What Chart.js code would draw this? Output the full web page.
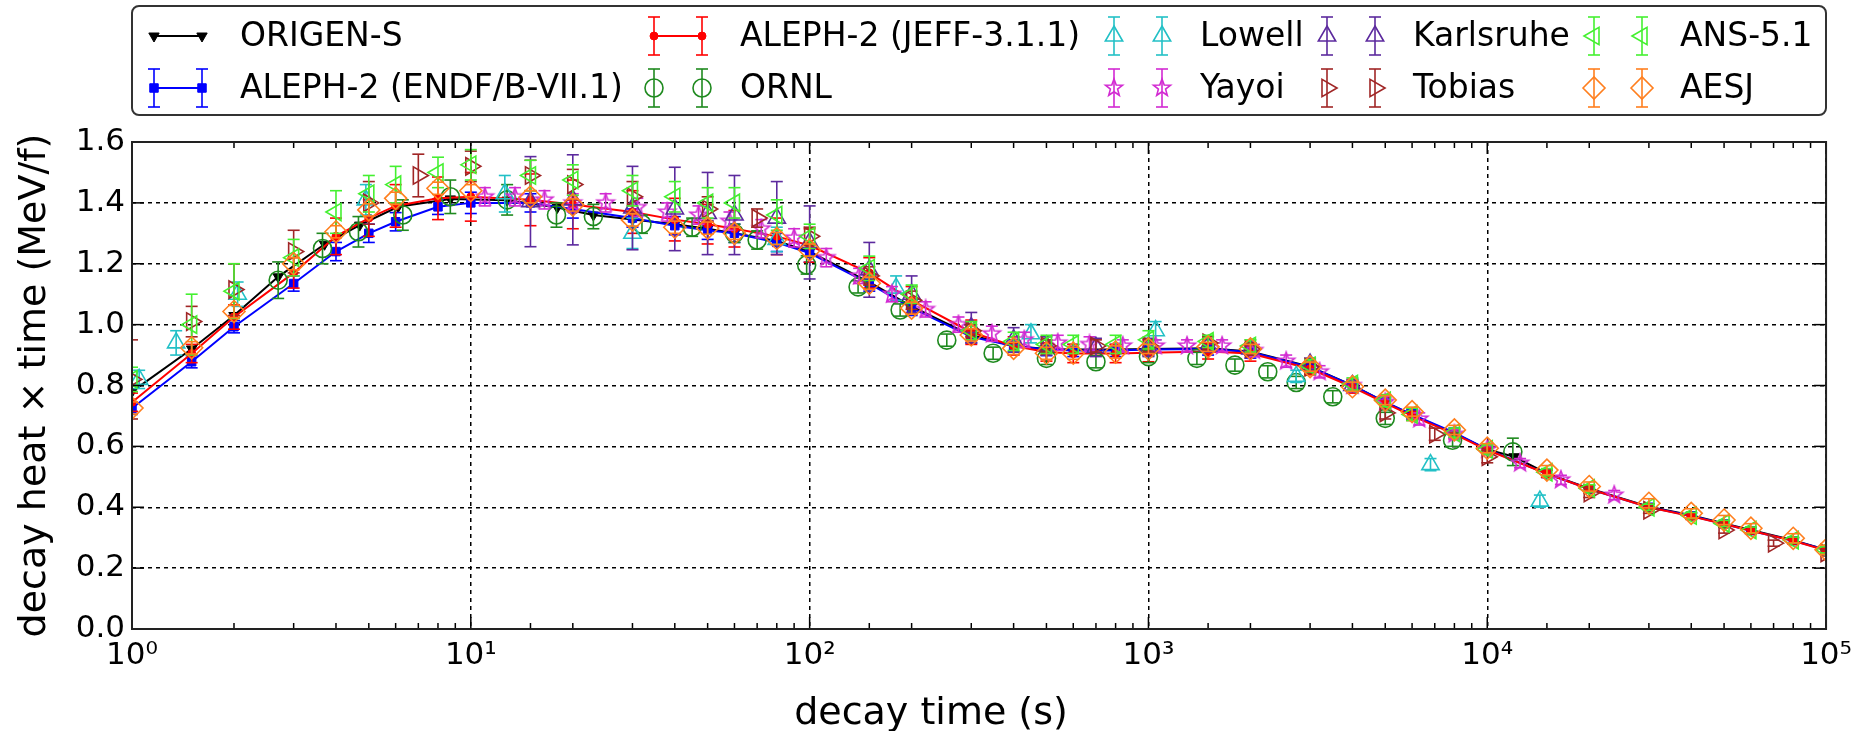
<!DOCTYPE html>
<html>
<head>
<meta charset="utf-8">
<title>decay heat x time</title>
<script src="https://cdn.jsdelivr.net/npm/chart.js@4.4.1/dist/chart.umd.min.js"></script>
<style>
  html, body { margin: 0; padding: 0; background: #fff; }
  #chart { display: block; }
</style>
</head>
<body>
<canvas id="chart" width="1860" height="731"></canvas>
<script>
// decay times (s) shared by the calculations and the standard benchmark sets
const stdTimes = [1, 1.5, 2, 3, 4, 5, 6, 8, 10, 15, 20, 30, 40, 50, 60, 80,
  100, 150, 200, 300, 400, 500, 600, 800, 1000, 1500, 2000, 3000, 4000, 5000, 6000, 8000,
  10000, 15000, 20000, 30000, 40000, 50000, 60000, 80000, 100000];

// ORIGEN-S
const origenTimes = [1, 1.5, 2, 2.7, 3.7, 4.7, 6.1, 8.7, 12.8, 18, 23, 30, 40, 50, 60, 80,
  100, 150, 200, 300, 400, 500, 600, 800, 1000, 1500, 2000, 3000, 4000, 5000, 6000, 8000,
  10000, 12000, 15000, 20000, 30000, 40000, 50000, 60000, 80000, 100000];
const origenValues = [0.78, 0.92, 1.03, 1.157, 1.264, 1.327, 1.387, 1.413, 1.409, 1.385, 1.36, 1.345, 1.33, 1.315, 1.30, 1.275,
  1.24, 1.14, 1.06, 0.965, 0.93, 0.92, 0.918, 0.918, 0.92, 0.922, 0.912, 0.862, 0.80, 0.745, 0.703, 0.643,
  0.59, 0.566, 0.511, 0.462, 0.402, 0.374, 0.347, 0.325, 0.292, 0.26];

// ALEPH-2 (ENDF/B-VII.1)
const endfValues = [0.725, 0.878, 0.993, 1.135, 1.24, 1.30, 1.338, 1.387, 1.40, 1.40, 1.38, 1.35, 1.325, 1.31, 1.30, 1.27,
  1.235, 1.135, 1.055, 0.96, 0.93, 0.918, 0.915, 0.915, 0.918, 0.92, 0.91, 0.86, 0.80, 0.745, 0.705, 0.645,
  0.59, 0.51, 0.46, 0.40, 0.372, 0.345, 0.323, 0.29, 0.26];
const endfErrors = [0.02, 0.02, 0.02, 0.025, 0.03, 0.03, 0.03, 0.025, 0.035, 0.03, 0.03, 0.03, 0.03, 0.03, 0.03, 0.03,
  0.03, 0.025, 0.025, 0.02, 0.02, 0.02, 0.02, 0.02, 0.02, 0.02, 0.02, 0.02, 0.015, 0.015, 0.015, 0.015,
  0.015, 0.012, 0.012, 0.01, 0.01, 0.01, 0.01, 0.01, 0.01];

// ALEPH-2 (JEFF-3.1.1)
const jeffValues = [0.745, 0.905, 1.025, 1.17, 1.29, 1.35, 1.39, 1.415, 1.42, 1.41, 1.395, 1.37, 1.345, 1.33, 1.315, 1.29,
  1.26, 1.17, 1.08, 0.975, 0.93, 0.91, 0.905, 0.905, 0.908, 0.912, 0.905, 0.855, 0.795, 0.742, 0.70, 0.64,
  0.588, 0.51, 0.46, 0.40, 0.37, 0.345, 0.323, 0.29, 0.258];
const jeffErrors = [0.03, 0.03, 0.04, 0.05, 0.06, 0.06, 0.07, 0.07, 0.08, 0.085, 0.08, 0.07, 0.07, 0.065, 0.06, 0.06,
  0.055, 0.05, 0.045, 0.04, 0.03, 0.03, 0.03, 0.03, 0.03, 0.025, 0.025, 0.02, 0.02, 0.02, 0.015, 0.015,
  0.015, 0.012, 0.012, 0.01, 0.01, 0.01, 0.01, 0.01, 0.01];

// ORNL
const ornlTimes = [2.7, 3.65, 4.66, 6.3, 8.7, 12.8, 17.9, 23, 32, 45, 60, 70, 98, 139, 185, 254,
  348, 500, 700, 1000, 1390, 1800, 2250, 2730, 3500, 5000, 7900, 11900];
const ornlValues = [1.146, 1.25, 1.305, 1.36, 1.42, 1.41, 1.36, 1.355, 1.33, 1.32, 1.30, 1.278, 1.196, 1.124, 1.048, 0.949,
  0.906, 0.889, 0.878, 0.895, 0.889, 0.867, 0.845, 0.81, 0.763, 0.692, 0.62, 0.582];
const ornlErrors = [0.06, 0.05, 0.05, 0.05, 0.055, 0.05, 0.04, 0.04, 0.03, 0.03, 0.03, 0.03, 0.03, 0.02, 0.02, 0.02,
  0.02, 0.02, 0.02, 0.02, 0.02, 0.02, 0.02, 0.02, 0.02, 0.02, 0.02, 0.045];

// Lowell
const lowellTimes = [1.05, 1.35, 2.05, 4.9, 12.6, 30, 80, 180, 450, 1050, 2730, 6800, 14300];
const lowellValues = [0.82, 0.94, 1.10, 1.41, 1.43, 1.30, 1.28, 1.12, 0.97, 0.98, 0.83, 0.54, 0.42];
const lowellErrors = [0.03, 0.04, 0.04, 0.05, 0.06, 0.05, 0.04, 0.04, 0.03, 0.03, 0.02, 0.02, 0.02];

// Yayoi
const yayoiTimes = [11, 13.5, 16.5, 20, 25, 31, 38, 47, 58, 72, 90, 112, 140, 175, 220, 275, 345, 430,
  540, 670, 840, 1050, 1300, 1650, 2050, 2550, 3200, 4000, 5000, 6300, 8000, 10000, 12500, 16500, 23700];
const yayoiValues = [1.42, 1.42, 1.41, 1.40, 1.40, 1.385, 1.37, 1.36, 1.34, 1.315, 1.285, 1.22, 1.16, 1.10, 1.05, 1.00, 0.97, 0.95,
  0.94, 0.935, 0.93, 0.93, 0.93, 0.93, 0.915, 0.88, 0.845, 0.80, 0.745, 0.69, 0.64, 0.59, 0.545, 0.49, 0.44];
const yayoiErrors = [0.03, 0.03, 0.03, 0.03, 0.03, 0.03, 0.03, 0.03, 0.03, 0.03, 0.03, 0.03, 0.025, 0.025, 0.025, 0.025, 0.025, 0.025,
  0.025, 0.025, 0.02, 0.02, 0.02, 0.02, 0.02, 0.02, 0.02, 0.02, 0.02, 0.02, 0.015, 0.015, 0.015, 0.015, 0.015];

// Karlsruhe
const karlsruheTimes = [15, 20, 30, 40, 50, 60, 80, 100, 150, 200, 300, 400, 500, 700, 1000, 1500, 2000, 3000, 4000];
const karlsruheValues = [1.404, 1.41, 1.383, 1.38, 1.365, 1.36, 1.35, 1.27, 1.18, 1.10, 0.99, 0.95, 0.93, 0.925, 0.925, 0.93, 0.92, 0.87, 0.80];
const karlsruheErrors = [0.148, 0.148, 0.137, 0.137, 0.135, 0.13, 0.12, 0.12, 0.09, 0.06, 0.05, 0.04, 0.03, 0.03, 0.03, 0.02, 0.02, 0.02, 0.02];

// Tobias
const tobiasTimes = [1, 1.5, 2, 3, 5, 7, 10, 15, 20, 30, 50, 70, 100, 150, 200, 300, 500, 700, 1000, 1500,
  2000, 3000, 5000, 7000, 10000, 20000, 30000, 50000, 70000, 100000];
const tobiasValues = [0.82, 1.01, 1.115, 1.24, 1.40, 1.49, 1.52, 1.49, 1.46, 1.42, 1.38, 1.35, 1.29, 1.16, 1.08, 0.98, 0.93, 0.93, 0.93, 0.94,
  0.92, 0.86, 0.71, 0.64, 0.566, 0.447, 0.39, 0.325, 0.282, 0.25];
const tobiasErrors = [0.13, 0.05, 0.085, 0.07, 0.07, 0.07, 0.05, 0.05, 0.05, 0.05, 0.04, 0.03, 0.03, 0.03, 0.03, 0.02, 0.02, 0.02, 0.02, 0.02,
  0.02, 0.02, 0.02, 0.02, 0.02, 0.015, 0.01, 0.01, 0.01, 0.01];

// ANS-5.1 (on stdTimes)
const ansValues = [0.82, 1.00, 1.11, 1.22, 1.37, 1.43, 1.46, 1.50, 1.525, 1.49, 1.475, 1.44, 1.42, 1.40, 1.40, 1.36,
  1.29, 1.185, 1.10, 0.98, 0.945, 0.935, 0.935, 0.935, 0.95, 0.945, 0.93, 0.865, 0.805, 0.75, 0.705, 0.645,
  0.59, 0.515, 0.462, 0.40, 0.373, 0.347, 0.325, 0.292, 0.26];
const ansErrors = [0.04, 0.10, 0.09, 0.06, 0.07, 0.06, 0.06, 0.05, 0.05, 0.05, 0.05, 0.05, 0.05, 0.05, 0.05, 0.05,
  0.04, 0.04, 0.03, 0.03, 0.03, 0.03, 0.03, 0.03, 0.03, 0.02, 0.02, 0.02, 0.02, 0.02, 0.02, 0.015,
  0.015, 0.012, 0.012, 0.01, 0.01, 0.01, 0.01, 0.01, 0.01];

// AESJ (on stdTimes)
const aesjValues = [0.726, 0.924, 1.043, 1.20, 1.305, 1.377, 1.415, 1.448, 1.44, 1.42, 1.393, 1.344, 1.32, 1.317, 1.30, 1.283,
  1.245, 1.136, 1.054, 0.966, 0.922, 0.906, 0.906, 0.91, 0.92, 0.927, 0.92, 0.862, 0.796, 0.752, 0.714, 0.654,
  0.594, 0.522, 0.468, 0.413, 0.38, 0.358, 0.331, 0.298, 0.26];
const aesjErrors = [0.02, 0.02, 0.02, 0.02, 0.02, 0.02, 0.02, 0.02, 0.02, 0.02, 0.02, 0.02, 0.02, 0.02, 0.02, 0.02,
  0.02, 0.02, 0.02, 0.02, 0.02, 0.02, 0.02, 0.02, 0.015, 0.015, 0.015, 0.015, 0.015, 0.015, 0.015, 0.015,
  0.015, 0.015, 0.015, 0.015, 0.015, 0.015, 0.015, 0.015, 0.015];

// y ticks
const yTickValues = [0.0, 0.2, 0.4, 0.6, 0.8, 1.0, 1.2, 1.4, 1.6];

const FONT = "'DejaVu Sans', 'Liberation Sans', sans-serif";
const SUP = ["\u2070", "\u00b9", "\u00b2", "\u00b3", "\u2074", "\u2075"];

function isDecade(v) {
  const l = Math.log10(v);
  return Math.abs(l - Math.round(l)) < 1e-9;
}

// open five-point star, used as a point style image (matplotlib '*')
function starMarker(color, r) {
  const c = document.createElement("canvas");
  const size = Math.ceil(r * 2 + 4);
  c.width = size; c.height = size;
  const g = c.getContext("2d");
  g.strokeStyle = color;
  g.lineWidth = 1.6;
  g.beginPath();
  for (let k = 0; k < 10; k++) {
    const rr = k % 2 === 0 ? r : r * 0.42;
    const ang = -Math.PI / 2 + k * Math.PI / 5;
    const px = size / 2 + rr * Math.cos(ang), py = size / 2 + rr * Math.sin(ang);
    if (k === 0) g.moveTo(px, py); else g.lineTo(px, py);
  }
  g.closePath();
  g.stroke();
  return c;
}

// style table, legend order (matplotlib draws later ones on top)
const series = [
  { label: "ORIGEN-S", times: origenTimes, values: origenValues, errors: null, color: "#000000", style: "triangle", rotation: 180, radius: 6, filled: true, line: true },
  { label: "ALEPH-2 (ENDF/B-VII.1)", times: stdTimes, values: endfValues, errors: endfErrors, color: "#0000ff", style: "rect", rotation: 0, radius: 6, filled: true, line: true },
  { label: "ALEPH-2 (JEFF-3.1.1)", times: stdTimes, values: jeffValues, errors: jeffErrors, color: "#ff0000", style: "circle", rotation: 0, radius: 4, filled: true, line: true },
  { label: "ORNL", times: ornlTimes, values: ornlValues, errors: ornlErrors, color: "#1f8a1f", style: "circle", rotation: 0, radius: 9, filled: false, line: false },
  { label: "Lowell", times: lowellTimes, values: lowellValues, errors: lowellErrors, color: "#22c0c6", style: "triangle", rotation: 0, radius: 10, filled: false, line: false },
  { label: "Yayoi", times: yayoiTimes, values: yayoiValues, errors: yayoiErrors, color: "#d22ad2", style: starMarker("#d22ad2", 9), rotation: 0, radius: 9, filled: false, line: false },
  { label: "Karlsruhe", times: karlsruheTimes, values: karlsruheValues, errors: karlsruheErrors, color: "#5c2a9e", style: "triangle", rotation: 0, radius: 10, filled: false, line: false },
  { label: "Tobias", times: tobiasTimes, values: tobiasValues, errors: tobiasErrors, color: "#a02626", style: "triangle", rotation: 90, radius: 10, filled: false, line: false },
  { label: "ANS-5.1", times: stdTimes, values: ansValues, errors: ansErrors, color: "#44f030", style: "triangle", rotation: 270, radius: 10, filled: false, line: false },
  { label: "AESJ", times: stdTimes, values: aesjValues, errors: aesjErrors, color: "#ff7f1e", style: "rectRot", rotation: 0, radius: 11, filled: false, line: false }
];

const datasets = series.map((s, i) => ({
  label: s.label,
  data: s.times.map((t, j) => ({ x: t, y: s.values[j] })),
  errorBars: s.errors,
  showLine: s.line,
  borderColor: s.color,
  backgroundColor: s.color,
  borderWidth: 2,
  pointStyle: s.style,
  rotation: s.rotation,
  pointRadius: s.radius,
  pointHoverRadius: s.radius,
  pointBorderColor: s.color,
  pointBackgroundColor: s.filled ? s.color : "rgba(0,0,0,0)",
  pointBorderWidth: s.filled ? 1 : 1.6,
  order: series.length - 1 - i,
  clip: 0
}));

function line(ctx, x1, y1, x2, y2) {
  ctx.beginPath();
  ctx.moveTo(x1, y1);
  ctx.lineTo(x2, y2);
  ctx.stroke();
}

const decor = {
  id: "decor",
  beforeDraw(chart) {
    const ctx = chart.ctx;
    ctx.save();
    ctx.fillStyle = "#ffffff";
    ctx.fillRect(0, 0, chart.width, chart.height);
    ctx.restore();
  },
  // error bars under each dataset's own markers
  beforeDatasetDraw(chart, args) {
    const ds = chart.data.datasets[args.index];
    if (!ds.errorBars) return;
    const ctx = chart.ctx, a = chart.chartArea;
    const xs = chart.scales.x, ys = chart.scales.y;
    ctx.save();
    ctx.beginPath();
    ctx.rect(a.left, a.top, a.right - a.left, a.bottom - a.top);
    ctx.clip();
    ctx.strokeStyle = ds.borderColor;
    ctx.lineWidth = 1.6;
    ds.data.forEach((p, j) => {
      const e = ds.errorBars[j];
      const px = xs.getPixelForValue(p.x);
      const y1 = ys.getPixelForValue(p.y - e);
      const y2 = ys.getPixelForValue(p.y + e);
      line(ctx, px, y1, px, y2);
      line(ctx, px - 6, y1, px + 6, y1);
      line(ctx, px - 6, y2, px + 6, y2);
    });
    ctx.restore();
  },
  afterDraw(chart) {
    const ctx = chart.ctx, a = chart.chartArea;
    const xs = chart.scales.x, ys = chart.scales.y;
    ctx.save();

    // inward tick marks on all four sides
    ctx.strokeStyle = "#000";
    ctx.lineWidth = 1.5;
    xs.ticks.forEach(t => {
      const px = xs.getPixelForValue(t.value);
      const len = isDecade(t.value) ? 12 : 6;
      line(ctx, px, a.bottom, px, a.bottom - len);
      line(ctx, px, a.top, px, a.top + len);
    });
    ys.ticks.forEach(t => {
      const py = ys.getPixelForValue(t.value);
      line(ctx, a.left, py, a.left + 12, py);
      line(ctx, a.right, py, a.right - 12, py);
    });

    // frame
    ctx.strokeStyle = "#222";
    ctx.lineWidth = 2;
    ctx.strokeRect(a.left, a.top, a.right - a.left, a.bottom - a.top);

    // axis titles
    ctx.fillStyle = "#000";
    ctx.font = "38px " + FONT;
    ctx.textAlign = "center";
    ctx.textBaseline = "alphabetic";
    ctx.fillText("decay time (s)", 931, 724);
    ctx.save();
    ctx.translate(45, (a.top + a.bottom) / 2);
    ctx.rotate(-Math.PI / 2);
    ctx.fillText("decay heat \u00d7 time (MeV/f)", 0, 0);
    ctx.restore();

    // legend box
    const bx = 132, by = 6, bw = 1694, bh = 109, r = 7;
    ctx.beginPath();
    ctx.moveTo(bx + r, by);
    ctx.arcTo(bx + bw, by, bx + bw, by + bh, r);
    ctx.arcTo(bx + bw, by + bh, bx, by + bh, r);
    ctx.arcTo(bx, by + bh, bx, by, r);
    ctx.arcTo(bx, by, bx + bw, by, r);
    ctx.closePath();
    ctx.fillStyle = "#ffffff";
    ctx.fill();
    ctx.strokeStyle = "#333";
    ctx.lineWidth = 2;
    ctx.stroke();

    const textX = [240, 740, 1200, 1413, 1680];
    const rowY = [36, 88];
    series.forEach((s, i) => {
      const col = Math.floor(i / 2), row = i % 2;
      const tx = textX[col], y = rowY[row];
      const m1 = tx - 86, m2 = tx - 38;
      ctx.strokeStyle = s.color;
      ctx.lineWidth = 2;
      if (s.line) line(ctx, m1, y, m2, y);
      if (s.errors) {
        ctx.lineWidth = 1.6;
        [m1, m2].forEach(mx => {
          line(ctx, mx, y - 19, mx, y + 19);
          line(ctx, mx - 6, y - 19, mx + 6, y - 19);
          line(ctx, mx - 6, y + 19, mx + 6, y + 19);
        });
      }
      ctx.fillStyle = s.filled ? s.color : "rgba(0,0,0,0)";
      ctx.lineWidth = s.filled ? 1 : 1.6;
      [m1, m2].forEach(mx => {
        Chart.helpers.drawPoint(ctx, { pointStyle: s.style, rotation: s.rotation, radius: s.radius, borderWidth: ctx.lineWidth }, mx, y);
      });
      ctx.fillStyle = "#000";
      ctx.font = "33px " + FONT;
      ctx.textAlign = "left";
      ctx.textBaseline = "middle";
      ctx.fillText(s.label, tx, y + 1);
    });

    ctx.restore();
  }
};

Chart.defaults.font.family = FONT;
Chart.defaults.color = "#000";

new Chart(document.getElementById("chart"), {
  type: "scatter",
  data: { datasets: datasets },
  options: {
    responsive: false,
    animation: false,
    devicePixelRatio: 1,
    layout: { padding: { left: 0, right: 33, top: 142, bottom: 0 } },
    plugins: {
      legend: { display: false },
      tooltip: { enabled: false }
    },
    scales: {
      x: {
        type: "logarithmic",
        min: 1,
        max: 100000,
        afterFit: scale => { scale.height = 102; },
        border: { display: false, dash: [4, 4] },
        grid: {
          drawTicks: false,
          lineWidth: 1.5,
          color: c => (c.tick && isDecade(c.tick.value)) ? "#000" : "rgba(0,0,0,0)"
        },
        ticks: {
          autoSkip: false,
          maxRotation: 0,
          padding: 8,
          font: { size: 31 },
          color: "#000",
          callback: v => isDecade(v) ? "10" + SUP[Math.round(Math.log10(v))] : ""
        }
      },
      y: {
        min: 0,
        max: 1.6,
        afterFit: scale => { scale.width = 132; },
        afterBuildTicks: scale => { scale.ticks = yTickValues.map(v => ({ value: v })); },
        border: { display: false, dash: [4, 4] },
        grid: { drawTicks: false, lineWidth: 1.5, color: "#000" },
        ticks: {
          padding: 7,
          font: { size: 31 },
          color: "#000",
          callback: v => v.toFixed(1)
        }
      }
    }
  },
  plugins: [decor]
});
</script>
</body>
</html>
